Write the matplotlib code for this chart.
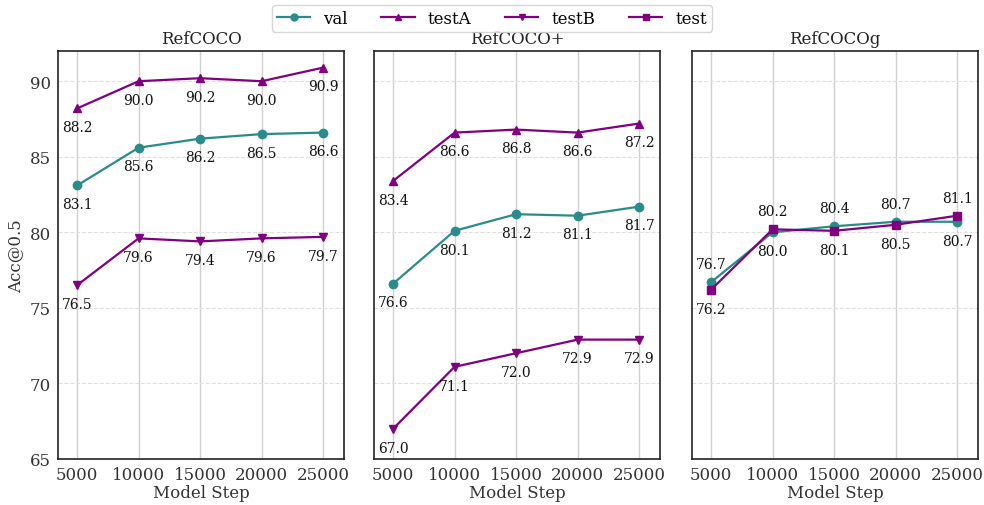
import matplotlib
matplotlib.use("Agg")
import matplotlib.pyplot as plt
from matplotlib.lines import Line2D

steps = [5000, 10000, 15000, 20000, 25000]
titles = ["RefCOCO", "RefCOCO+", "RefCOCOg"]

refcoco_val = [83.1, 85.6, 86.2, 86.5, 86.6]
refcoco_testA = [88.2, 90.0, 90.2, 90.0, 90.9]
refcoco_testB = [76.5, 79.6, 79.4, 79.6, 79.7]

refcocop_val = [76.6, 80.1, 81.2, 81.1, 81.7]
refcocop_testA = [83.4, 86.6, 86.8, 86.6, 87.2]
refcocop_testB = [67.0, 71.1, 72.0, 72.9, 72.9]

refcocog_val = [76.7, 80.0, 80.4, 80.7, 80.7]
refcocog_test = [76.2, 80.2, 80.1, 80.5, 81.1]

TEAL = "#2a8c8a"
PURPLE = "#800080"

plt.rcParams['font.family'] = ['DejaVu Serif']

fig = plt.figure(figsize=(9.84, 5.06), dpi=100)
W, H = 984, 506
lefts = [58, 374, 692]
width = 286
bottom, top = 460, 52
axes = []
for l in lefts:
    ax = fig.add_axes([l / W, 1 - bottom / H, width / W, (bottom - top) / H])
    axes.append(ax)

def style(ax, title, first):
    ax.set_xlim(3450, 26700)
    ax.set_ylim(65, 92)
    ax.set_xticks(steps)
    ax.set_yticks([65, 70, 75, 80, 85, 90])
    ax.grid(axis='x', color='#d0d0d0', linestyle='-', linewidth=1.0)
    ax.grid(axis='y', color='#e0e0e0', linestyle='--', linewidth=0.8)
    ax.set_axisbelow(True)
    for s in ax.spines.values():
        s.set_color('#222222')
        s.set_linewidth(1.2)
    ax.tick_params(axis='both', labelsize=12, colors='#333333', length=0, pad=5)
    ax.set_title(title, fontsize=12, color='#222222', pad=6)
    ax.set_xlabel("Model Step", fontsize=12, color='#333333', labelpad=1)
    if first:
        ax.set_ylabel("Acc@0.5", fontsize=12, color='#333333')
    else:
        ax.tick_params(axis='y', labelleft=False)

def plot_series(ax, ys, color, marker, offsets):
    ax.plot(steps, ys, color=color, marker=marker, markersize=6, linewidth=1.6)
    for x, y, off in zip(steps, ys, offsets):
        ax.annotate(f"{y:.1f}", (x, y), xytext=(0, off), textcoords='offset points',
                    ha='center', va='center', fontsize=10, color='#111111')

below = [-13.5] * 5
style(axes[0], titles[0], True)
plot_series(axes[0], refcoco_val, TEAL, 'o', below)
plot_series(axes[0], refcoco_testA, PURPLE, '^', below)
plot_series(axes[0], refcoco_testB, PURPLE, 'v', below)

style(axes[1], titles[1], False)
plot_series(axes[1], refcocop_val, TEAL, 'o', below)
plot_series(axes[1], refcocop_testA, PURPLE, '^', below)
plot_series(axes[1], refcocop_testB, PURPLE, 'v', below)

style(axes[2], titles[2], False)
val_off = [13 if v > t else -13.5 for v, t in zip(refcocog_val, refcocog_test)]
test_off = [-13.5 if v > t else 13 for v, t in zip(refcocog_val, refcocog_test)]
plot_series(axes[2], refcocog_val, TEAL, 'o', val_off)
plot_series(axes[2], refcocog_test, PURPLE, 's', test_off)

handles = [
    Line2D([], [], color=TEAL, marker='o', markersize=5, linewidth=1.6, label='val'),
    Line2D([], [], color=PURPLE, marker='^', markersize=5, linewidth=1.6, label='testA'),
    Line2D([], [], color=PURPLE, marker='v', markersize=5, linewidth=1.6, label='testB'),
    Line2D([], [], color=PURPLE, marker='s', markersize=5, linewidth=1.6, label='test'),
]
fig.legend(handles=handles, loc='upper center', bbox_to_anchor=(0.5, 1.005), ncol=4,
           fontsize=12, frameon=True, edgecolor='#cccccc', handlelength=2.0,
           handletextpad=0.8, columnspacing=2.0, borderpad=0.3)

fig.savefig("out.png", dpi=100)
